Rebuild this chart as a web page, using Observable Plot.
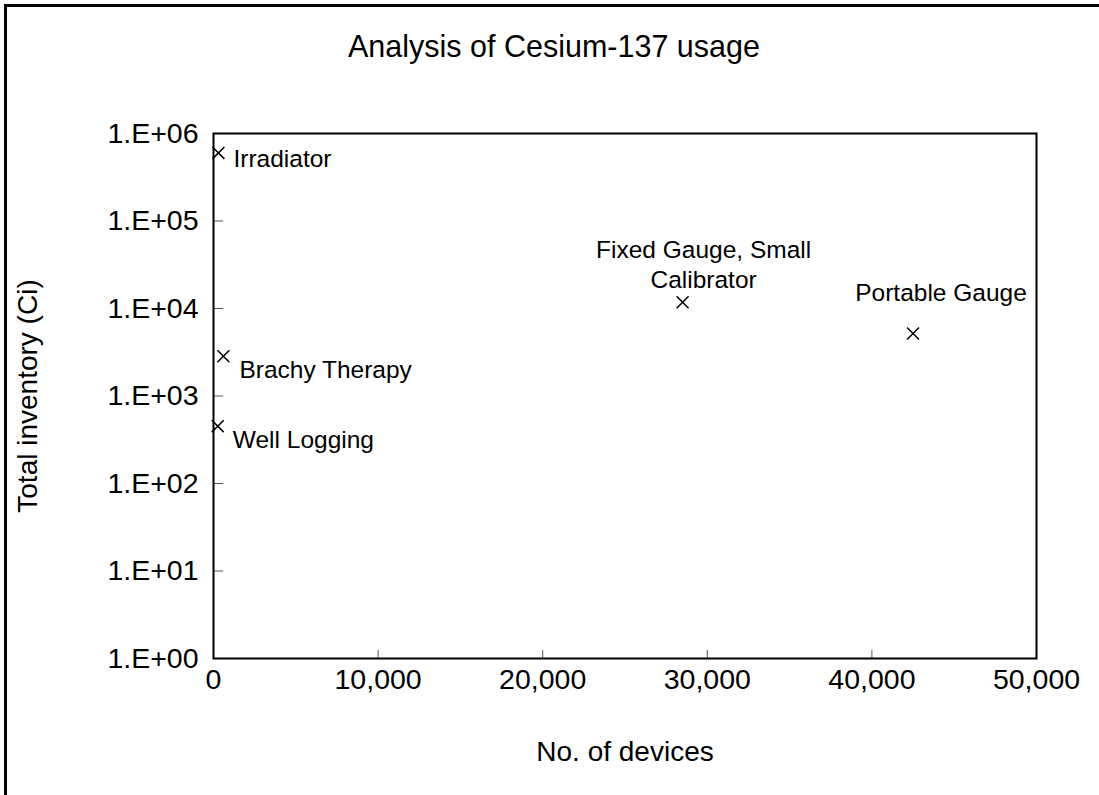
<!DOCTYPE html>
<html>
<head>
<meta charset="utf-8">
<script src="https://cdn.jsdelivr.net/npm/d3@7"></script>
<script src="https://cdn.jsdelivr.net/npm/@observablehq/plot@0.6"></script>
<style>
  html, body { margin: 0; padding: 0; background: #fff; overflow: hidden; }
  #wrap { position: relative; width: 1099px; height: 795px; }
  #border { position: absolute; left: 4px; top: 4px; width: 1200px; height: 900px;
            border-left: 3px solid #000; border-top: 3px solid #000; pointer-events: none; }
  #chart { position: absolute; left: 0; top: 0; }
</style>
</head>
<body>
<div id="wrap"><div id="chart"></div><div id="border"></div></div>
<script>
const categories = ["Irradiator", "Brachy Therapy", "Well Logging", "Fixed Gauge, Small Calibrator", "Portable Gauge"];
const devices = [300, 600, 260, 28500, 42500];
const inventory = [600000, 2850, 452, 11800, 5180];
const xTicks = [0, 10000, 20000, 30000, 40000, 50000];
const xTickLabels = ["0", "10,000", "20,000", "30,000", "40,000", "50,000"];
const yTicks = [1, 10, 100, 1000, 10000, 100000, 1000000];
const yTickLabels = ["1.E+00", "1.E+01", "1.E+02", "1.E+03", "1.E+04", "1.E+05", "1.E+06"];
const titleText = "Analysis of Cesium-137 usage";
const xLabel = "No. of devices";
const yLabel = "Total inventory (Ci)";

const data = categories.map((c, i) => ({name: c, x: devices[i], y: inventory[i]}));
const pick = n => data.filter(d => d.name === n);
const font = "'Liberation Sans', Arial, sans-serif";

const chart = Plot.plot({
  width: 1099,
  height: 795,
  marginLeft: 213,
  marginRight: 63,
  marginTop: 133,
  marginBottom: 137,
  style: {fontFamily: font, background: "transparent", color: "#000"},
  x: {domain: [0, 50000]},
  y: {type: "log", domain: [1, 1000000]},
  marks: [
    Plot.tickX(xTicks.slice(1, -1), {insetTop: 517, stroke: "#555", strokeWidth: 1}),
    Plot.tickY(yTicks.slice(1, -1), {insetRight: 813, stroke: "#555", strokeWidth: 1}),
    Plot.frame({stroke: "#000", strokeWidth: 2}),
    Plot.axisX(xTicks, {tickSize: 0, tickPadding: 10, fontSize: 28.5, label: null,
      tickFormat: d => xTickLabels[xTicks.indexOf(d)]}),
    Plot.axisY(yTicks, {tickSize: 0, tickPadding: 15, fontSize: 28.5, label: null,
      tickFormat: d => yTickLabels[yTicks.indexOf(d)]}),
    Plot.dot(data, {x: "x", y: "y", symbol: "times", r: 5.5, stroke: "#000", strokeWidth: 1.5}),
    Plot.text(pick("Irradiator"), {x: "x", y: "y", text: "name", textAnchor: "start", dx: 15, dy: 6, fontSize: 24.5}),
    Plot.text(pick("Brachy Therapy"), {x: "x", y: "y", text: "name", textAnchor: "start", dx: 16, dy: 14, fontSize: 24.5}),
    Plot.text(pick("Well Logging"), {x: "x", y: "y", text: "name", textAnchor: "start", dx: 15, dy: 14, fontSize: 24.5}),
    Plot.text(pick("Fixed Gauge, Small Calibrator"), {x: "x", y: "y", text: "name", textAnchor: "middle", lineWidth: 10, lineHeight: 1.25, dx: 21, dy: -39, fontSize: 24.5}),
    Plot.text(pick("Portable Gauge"), {x: "x", y: "y", text: "name", textAnchor: "middle", dx: 28, dy: -40, fontSize: 24.5}),
    Plot.text([titleText], {frameAnchor: "top", textAnchor: "middle", lineAnchor: "middle", dx: -71, dy: -86, fontSize: 30.5}),
    Plot.text([xLabel], {frameAnchor: "bottom", textAnchor: "middle", lineAnchor: "middle", dy: 94, fontSize: 28}),
    Plot.text([yLabel], {frameAnchor: "left", textAnchor: "middle", lineAnchor: "middle", dx: -185, rotate: -90, fontSize: 28})
  ]
});
document.getElementById("chart").appendChild(chart);
</script>
</body>
</html>
